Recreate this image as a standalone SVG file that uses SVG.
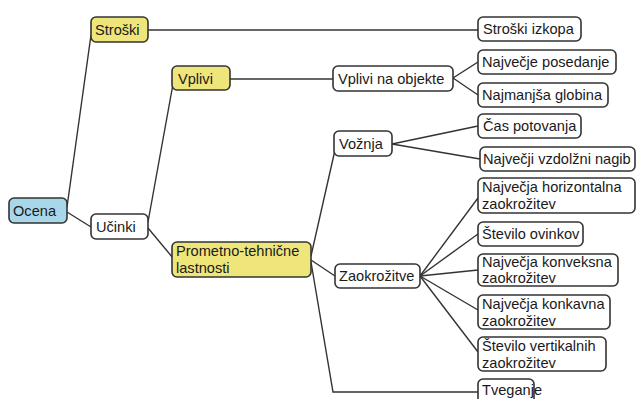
<svg xmlns="http://www.w3.org/2000/svg" width="636" height="399" viewBox="0 0 636 399">
<style>
.b{stroke:#333;stroke-width:1.6;fill:#fff}
.y{fill:#EEE67A}
.c{fill:#A9D7EA}
text{font-family:"Liberation Sans",Arial,sans-serif;font-size:14.6px;fill:#1a1a1a}
.e path{fill:none;stroke:#333;stroke-width:1.4}
</style>
<rect width="636" height="399" fill="#fff"/>
<g class="e" id="connectors">
<path d="M67,207 L91,35"/>
<path d="M67,212 L91,227"/>
<path d="M148,222 L173,84"/>
<path d="M148,228 L173,258"/>
<path d="M148,30 L478,30"/>
<path d="M230,79 L333,79"/>
<path d="M453,78 L478,62"/>
<path d="M453,78 L478,95"/>
<path d="M311,256 L335,150"/>
<path d="M311,260 L335,276"/>
<path d="M311,262 L333,392 L478,392"/>
<path d="M392,144 L478,126"/>
<path d="M392,144 L480,159"/>
<path d="M420,276 L478,198"/>
<path d="M420,276 L478,234"/>
<path d="M420,276 L478,270"/>
<path d="M420,276 L478,310"/>
<path d="M420,276 L478,352"/>
</g>
<g id="ocena"><rect class="b c" x="9" y="198" width="58" height="25" rx="5"/><text x="13" y="216">Ocena</text></g>
<g id="stroski"><rect class="b y" x="91" y="17" width="57" height="25" rx="5"/><text x="95" y="35">Stroški</text></g>
<g id="ucinki"><rect class="b" x="91" y="214" width="57" height="25" rx="5"/><text x="96" y="232">Učinki</text></g>
<g id="vplivi"><rect class="b y" x="172" y="66" width="58" height="24" rx="5"/><text x="178" y="84">Vplivi</text></g>
<g id="prometno"><rect class="b y" x="172" y="242" width="139" height="35" rx="5"/><text x="176" y="256">Prometno-tehnične</text><text x="176" y="273">lastnosti</text></g>
<g id="stroski-izkopa"><rect class="b" x="478" y="17" width="103" height="24" rx="5"/><text x="483" y="34">Stroški izkopa</text></g>
<g id="vplivi-na-objekte"><rect class="b" x="333" y="66" width="120" height="25" rx="5"/><text x="338" y="84">Vplivi na objekte</text></g>
<g id="najvecje-posedanje"><rect class="b" x="478" y="50" width="138" height="24" rx="5"/><text x="482" y="67">Največje posedanje</text></g>
<g id="najmanjsa-globina"><rect class="b" x="478" y="83" width="130" height="24" rx="5"/><text x="482" y="100">Najmanjša globina</text></g>
<g id="voznja"><rect class="b" x="334" y="131" width="58" height="25" rx="5"/><text x="339" y="149">Vožnja</text></g>
<g id="cas-potovanja"><rect class="b" x="478" y="114" width="103" height="24" rx="5"/><text x="483" y="131">Čas potovanja</text></g>
<g id="najvecji-nagib"><rect class="b" x="480" y="147" width="155" height="24" rx="5"/><text x="483" y="164">Največji vzdolžni nagib</text></g>
<g id="horizontalna"><rect class="b" x="478" y="178" width="157" height="35" rx="5"/><text x="482" y="192">Največja horizontalna</text><text x="482" y="209">zaokrožitev</text></g>
<g id="stevilo-ovinkov"><rect class="b" x="478" y="222" width="105" height="24" rx="5"/><text x="482" y="239">Število ovinkov</text></g>
<g id="konveksna"><rect class="b" x="478" y="254" width="140" height="32" rx="5"/><text x="482" y="267">Največja konveksna</text><text x="482" y="283">zaokrožitev</text></g>
<g id="konkavna"><rect class="b" x="478" y="295" width="132" height="34" rx="5"/><text x="482" y="309">Največja konkavna</text><text x="482" y="326">zaokrožitev</text></g>
<g id="vertikalnih"><rect class="b" x="478" y="337" width="128" height="34" rx="5"/><text x="482" y="351">Število vertikalnih</text><text x="482" y="368">zaokrožitev</text></g>
<g id="tveganje"><rect class="b" x="478" y="379" width="56" height="26" rx="5"/><text x="482" y="395">Tveganje</text></g>
<g id="zaokrozitve"><rect class="b" x="335" y="264" width="85" height="24" rx="5"/><text x="339" y="281">Zaokrožitve</text></g>
</svg>
